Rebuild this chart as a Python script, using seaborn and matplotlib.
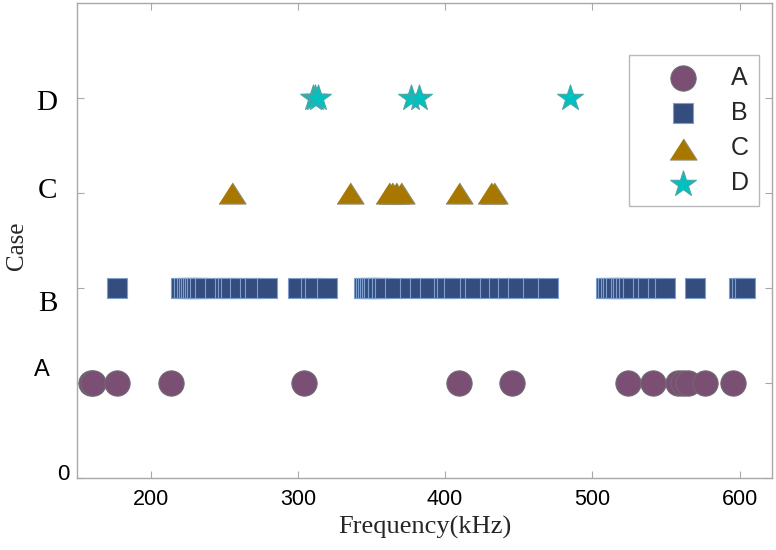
import matplotlib
matplotlib.use("Agg")
import matplotlib.pyplot as plt
from matplotlib.transforms import blended_transform_factory
import pandas as pd
import seaborn as sns

# Resonance frequencies (kHz) found for each case
freq_a = [159.5, 161.0, 177.0, 213.9, 304.5, 409.7, 445.2, 524.5, 541.1,
          557.9, 561.3, 564.7, 576.3, 595.7]
freq_b = [177.5,
          220.8, 223.0, 224.6, 226.4, 227.6, 228.7, 230.0, 231.4, 233.2, 237.1,
          243.6, 250.2, 252.5, 254.8, 260.4, 267.2, 271.1, 278.8,
          300.1, 309.0, 311.4, 319.6,
          344.7, 346.1, 347.4, 348.8, 350.2, 351.9, 354.2, 357.3, 359.0, 365.8,
          376.0, 383.0, 389.6, 399.1, 401.2, 405.9, 416.8, 420.2, 430.4, 436.5,
          443.0, 449.4, 459.6, 469.6,
          509.0, 510.8, 512.4, 514.2, 515.8, 519.2, 521.0, 522.8, 524.9, 527.8,
          534.2, 538.0, 544.8, 549.6,
          569.7, 599.9, 601.5, 603.9]
freq_c = [255.1, 335.5, 361.9, 364.1, 366.4, 370.2, 409.2, 431.4, 433.4]
freq_d = [310.0, 311.3, 313.6, 377.0, 382.0, 485.1]

cases = ["A", "B", "C", "D"]
case_levels = [1, 2, 3, 4]
ytick_labels = ["0", "A", "B", "C", "D"]
xticks = [200, 300, 400, 500, 600]

rows = []
for case, level, freqs in zip(cases, case_levels, [freq_a, freq_b, freq_c, freq_d]):
    rows += [{"Frequency": f, "Case": case, "Level": level} for f in freqs]
df = pd.DataFrame(rows)

sns.set_theme(style="white")
plt.rcParams["font.family"] = ["Liberation Sans", "DejaVu Sans"]

SERIF = ["Liberation Serif", "DejaVu Serif"]
SANS = ["Liberation Sans", "DejaVu Sans"]
GRAY = "#a8a8a8"

wide_triangle = [(-1, -0.78), (1, -0.78), (0, 0.78)]
styles = {
    "A": dict(marker="o", color="#7a4f73", edgecolor="#6e6a72", s=330),
    "B": dict(marker="s", color="#344d7e", edgecolor="#7c9fd0", s=200),
    "C": dict(marker=wide_triangle, color="#a87700", edgecolor="#8c8c70", s=380),
    "D": dict(marker="*", color="#00c0c0", edgecolor="#4aa6a6", s=380),
}

fig, ax = plt.subplots(figsize=(7.76, 5.50), dpi=100)
fig.subplots_adjust(left=77 / 776, right=772 / 776, top=1 - 3 / 550, bottom=1 - 478 / 550)

for case in cases:
    sub = df[df["Case"] == case]
    st = styles[case]
    sns.scatterplot(data=sub, x="Frequency", y="Level", marker=st["marker"],
                    color=st["color"], edgecolor=st["edgecolor"], linewidth=0.8,
                    s=st["s"], alpha=1, ax=ax, label=case)

ax.set_xlim(150, 622)
ax.set_ylim(0, 5)
ax.set_xticks(xticks)
ax.set_xticklabels([str(t) for t in xticks], fontfamily=SANS, fontsize=15.5)
ax.set_yticks(list(range(5)))
ax.tick_params(axis="y", labelleft=False)
ax.tick_params(direction="in", length=5, width=0.8, color=GRAY,
               top=True, right=True, bottom=True, left=True)
ax.tick_params(axis="x", pad=8, colors="black", color=GRAY)

for sp in ax.spines.values():
    sp.set_color(GRAY)
    sp.set_linewidth(1.0)

# Case labels on the vertical axis, each nudged to its own place
ylab_tr = blended_transform_factory(ax.transAxes, ax.transData)
ylab_spec = [
    ("0", -0.019, 0.04, SANS, 16),
    ("A", -0.050, 1.14, SANS, 17),
    ("B", -0.042, 1.83, SERIF, 21),
    ("C", -0.043, 3.02, SERIF, 21),
    ("D", -0.043, 3.95, SERIF, 21),
]
for txt, xa, yv, fam, fs in ylab_spec:
    ax.text(xa, yv, txt, transform=ylab_tr, ha="center", va="center",
            fontfamily=fam, fontsize=fs, color="black")

ax.set_xlabel("Frequency(kHz)", fontfamily=SERIF, fontsize=19)
ax.xaxis.set_label_coords(0.5, -0.080)
ax.set_ylabel("Case", fontfamily=SERIF, fontsize=18)
ax.yaxis.set_label_coords(-0.070, 0.49)

leg = ax.legend(loc="upper left", bbox_to_anchor=(0.794, 0.890), borderaxespad=0,
                frameon=True, fancybox=False, handlelength=3.5, handletextpad=0.15,
                labelspacing=0.45, borderpad=0.42,
                prop={"family": SANS, "size": 18})
leg.get_frame().set_edgecolor(GRAY)
leg.get_frame().set_linewidth(1.0)

fig.savefig("out.png", dpi=100)
